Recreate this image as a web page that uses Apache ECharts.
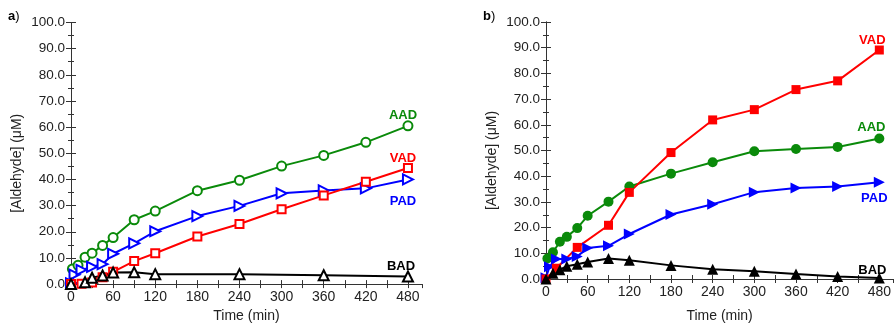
<!DOCTYPE html>
<html>
<head>
<meta charset="utf-8">
<script src="https://cdn.jsdelivr.net/npm/echarts@6/dist/echarts.min.js"></script>
<style>
  html, body { margin: 0; padding: 0; background: #fff; }
  #chart { width: 894px; height: 328px; }
</style>
</head>
<body>
<div id="chart"></div>
<script>
// Aldehyde formation over time, [time (min), concentration (µM)]
// Panel a)
const aadA = [[2, 5.8], [10, 7.2], [20, 10.3], [30, 11.8], [45, 14.8], [60, 17.8], [90, 24.6], [120, 27.9], [180, 35.7], [240, 39.7], [300, 45.1], [360, 49.2], [420, 54.2], [480, 60.5]];
const vadA = [[0, 0], [15, 0.1], [30, 0.6], [45, 2.6], [60, 4.7], [90, 8.8], [120, 11.8], [180, 18.2], [240, 23.0], [300, 28.6], [360, 33.9], [420, 39.1], [480, 44.4]];
const padA = [[0, 0.3], [5, 3.6], [15, 5.4], [30, 6.6], [45, 7.6], [60, 11.6], [90, 15.6], [120, 20.2], [180, 26.0], [240, 29.9], [300, 34.7], [360, 35.8], [420, 36.6], [480, 40.0]];
const badA = [[0, 0], [20, 0.7], [30, 2.4], [45, 3.3], [60, 4.4], [90, 4.5], [120, 3.8], [240, 3.8], [360, 3.4], [480, 2.9]];

// Panel b)
const vadB = [[0, 0], [15, 4.2], [45, 12.3], [90, 20.9], [120, 33.7], [180, 49.2], [240, 61.9], [300, 65.9], [360, 73.7], [420, 77.1], [480, 89.1]];
const aadB = [[2, 8.0], [10, 10.4], [20, 14.5], [30, 16.4], [45, 19.8], [60, 24.6], [90, 30.1], [120, 36.0], [180, 41.0], [240, 45.4], [300, 49.7], [360, 50.6], [420, 51.4], [480, 54.7]];
const padB = [[0, 0.5], [5, 4.8], [15, 7.8], [30, 7.8], [45, 8.8], [60, 12.1], [90, 12.9], [120, 17.5], [180, 25.1], [240, 29.1], [300, 33.8], [360, 35.4], [420, 36.0], [480, 37.6]];
const badB = [[0, 0], [10, 2.2], [20, 3.6], [30, 5.0], [45, 5.7], [60, 6.6], [90, 8.0], [120, 7.3], [180, 5.3], [240, 3.8], [300, 3.0], [360, 1.9], [420, 1.0], [480, 0.4]];

// Axis ranges and tick spacing
const xRange = [0, 500];
const xLabelStep = 60;
const xLastLabel = 480;
const xTickStep = 30;
const yRange = [0, 100];
const yTickStep = 10;

const FONT = 'Liberation Sans, Arial, Helvetica, sans-serif';
const GREEN = '#0a8a0a', RED = '#ff0000', BLUE = '#0000ff', BLACK = '#000000';
const AXIS_COLOR = '#333333';
const SYMBOL_SIZE = { circle: 9, rect: 8, triangle: 10 };

function xAxes(gridIndex, nameGap) {
  const common = {
    type: 'value', gridIndex, min: xRange[0], max: xRange[1], interval: xTickStep,
    splitLine: { show: false },
    axisLine: { show: true, lineStyle: { color: AXIS_COLOR, width: 1 } },
    axisTick: { show: true, inside: true, length: 4, lineStyle: { color: AXIS_COLOR } }
  };
  return [
    Object.assign({}, common, {
      position: 'bottom',
      name: 'Time (min)', nameLocation: 'middle', nameGap,
      nameTextStyle: { fontFamily: FONT, fontSize: 14, color: '#222' },
      axisLabel: {
        interval: 0, showMaxLabel: false, margin: 6,
        fontFamily: FONT, fontSize: 14, color: '#222',
        formatter: v => (v % xLabelStep === 0 && v <= xLastLabel) ? String(v) : ''
      }
    }),
    Object.assign({}, common, { position: 'top', axisLabel: { show: false } })
  ];
}

function yAxes(gridIndex) {
  const common = {
    type: 'value', gridIndex, min: yRange[0], max: yRange[1], interval: yTickStep,
    splitLine: { show: false },
    axisLine: { show: true, lineStyle: { color: AXIS_COLOR, width: 1 } },
    axisTick: { show: true, inside: true, length: 5, lineStyle: { color: AXIS_COLOR } },
    minorTick: { show: true, splitNumber: 2, length: 3, lineStyle: { color: AXIS_COLOR } },
    minorSplitLine: { show: false }
  };
  return [
    Object.assign({}, common, {
      position: 'left',
      name: '[Aldehyde] (μM)', nameLocation: 'middle', nameGap: 47,
      nameTextStyle: { fontFamily: FONT, fontSize: 14, color: '#222', padding: [0, 20, 0, 0] },
      axisLabel: { margin: 6, fontFamily: FONT, fontSize: 13.5, color: '#222', formatter: v => v.toFixed(1) }
    }),
    Object.assign({}, common, { position: 'right', axisLabel: { show: false } })
  ];
}

// One line series; the last point carries the compound name
function line(name, data, color, xi, yi, symbol, rotate, offset) {
  const hollow = symbol.startsWith('empty');
  const base = hollow ? symbol.slice(5).toLowerCase() : symbol;
  const pts = data.map((p, i) => i < data.length - 1 ? p : {
    value: p,
    label: {
      show: true, formatter: name, position: 'inside', offset,
      fontFamily: FONT, fontSize: 13, fontWeight: 'bold', color
    }
  });
  return {
    type: 'line', name, data: pts, xAxisIndex: xi, yAxisIndex: yi,
    symbol, symbolRotate: rotate, symbolSize: SYMBOL_SIZE[base] + (hollow ? 0 : 1),
    showAllSymbol: true,
    lineStyle: { color, width: 2 },
    itemStyle: { color, borderColor: color, borderWidth: hollow ? 1.5 : 0 },
    emphasis: { disabled: true },
    animation: false
  };
}

const panelTag = letter => ({
  text: '{b|' + letter + '}{n|)}',
  rich: {
    b: { fontFamily: FONT, fontSize: 13, fontWeight: 'bold', fill: '#000' },
    n: { fontFamily: FONT, fontSize: 13, fill: '#000' }
  }
});

const chart = echarts.init(document.getElementById('chart'), null, { renderer: 'canvas' });
chart.setOption({
  backgroundColor: '#fff',
  animation: false,
  grid: [
    { left: 71, top: 22.5, width: 351, height: 265 },
    { left: 546, top: 22, width: 351, height: 265 }
  ],
  xAxis: [...xAxes(0, 21), ...xAxes(1, 30)],
  yAxis: [...yAxes(0), ...yAxes(1)],
  graphic: [
    { type: 'text', left: 8, top: 10, style: panelTag('a') },
    { type: 'text', left: 483, top: 10, style: panelTag('b') }
  ],
  series: [
    line('AAD', aadA, GREEN, 0, 0, 'emptyCircle', 0, [-5, -10]),
    line('PAD', padA, BLUE, 0, 0, 'emptyTriangle', -90, [-5, 22]),
    line('VAD', vadA, RED, 0, 0, 'emptyRect', 0, [-5, -10]),
    line('BAD', badA, BLACK, 0, 0, 'emptyTriangle', 0, [-7, -10]),
    line('AAD', aadB, GREEN, 2, 2, 'circle', 0, [-8, -11]),
    line('PAD', padB, BLUE, 2, 2, 'triangle', -90, [-5, 16]),
    line('VAD', vadB, RED, 2, 2, 'rect', 0, [-7, -10]),
    line('BAD', badB, BLACK, 2, 2, 'triangle', 0, [-7, -8])
  ]
});
</script>
</body>
</html>
